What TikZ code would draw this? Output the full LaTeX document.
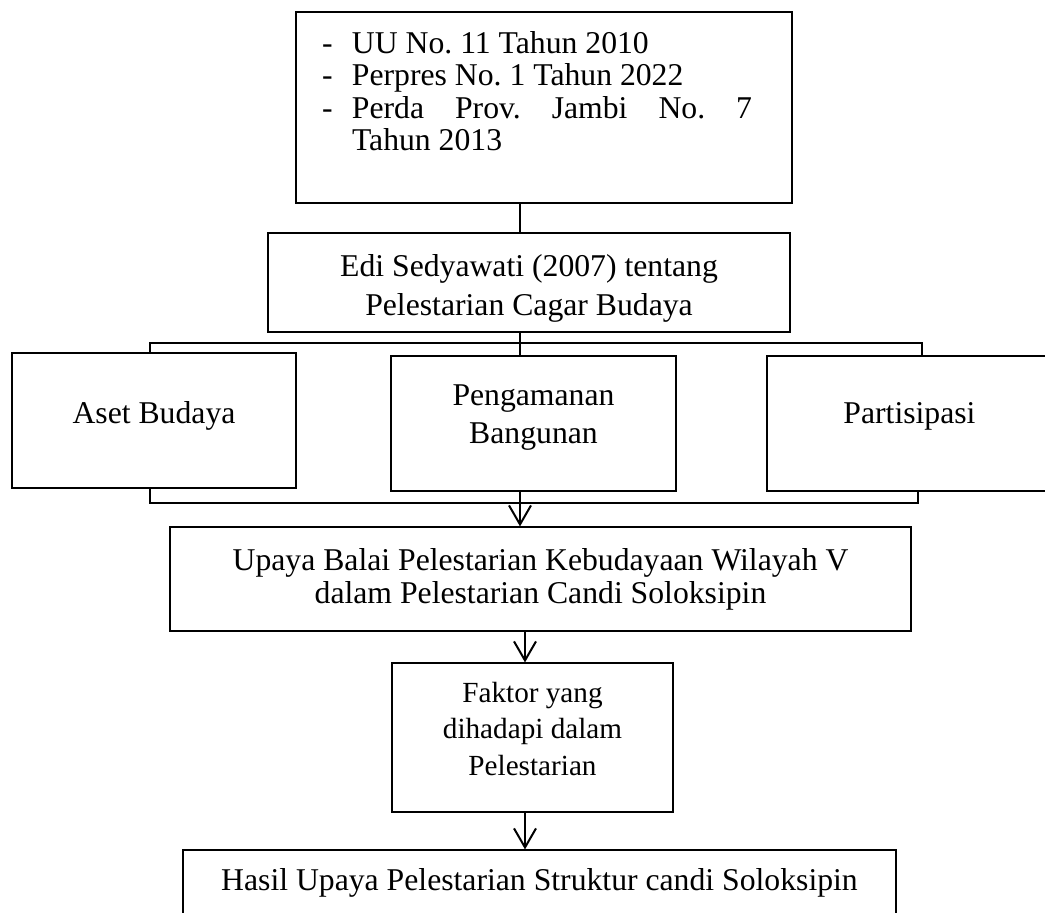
\documentclass[tikz,border=0pt]{standalone}
\usepackage{fontspec}
\setmainfont{Liberation Serif}
\usepackage{tikz}
\usetikzlibrary{positioning, arrows.meta}
\frenchspacing

\newcommand{\lawitem}[1]{\par\hangindent=30pt\hangafter=1\noindent\makebox[30pt][l]{-}#1}

\begin{document}
\begin{tikzpicture}[x=1pt, y=-1pt,
    box/.style={draw, line width=1.2pt, inner sep=0pt, font=\fontsize{31.7}{38}\selectfont},
    link/.style={line width=2.5pt},
    arr/.style={line width=2pt, -{Straight Barb[length=19pt,width=22pt]}}]
       \useasboundingbox (0,0) rectangle (1045,913);

       % Dasar hukum
       \node[box, minimum width=496pt, font=\fontsize{31.7}{32.3}\selectfont] (laws) at (544,107.5)
            {\parbox[c][191pt][t]{444pt}{\vspace*{19.5pt}\rightskip=14pt
             \lawitem{UU No. 11 Tahun 2010}\lawitem{Perpres No. 1 Tahun 2022}\lawitem{Perda Prov. Jambi No. 7\linebreak Tahun 2013}\par}};
       \node[box, align=center, minimum width=522pt, minimum height=99pt, text height=72.6pt, font=\fontsize{31.7}{39}\selectfont] (edi) at (529,282.5)
            {Edi Sedyawati (2007) tentang\\Pelestarian Cagar Budaya};

       % Tiga aspek pelestarian
       \node[box, minimum width=284pt, minimum height=135pt, text depth=17pt] (aset) at (154,420.5) {Aset Budaya};
       \node[box, align=center, minimum width=285pt, minimum height=135pt, text depth=19pt] (aman) at (533.5,423.5) {Pengamanan\\Bangunan};
       \node[box, minimum width=285pt, minimum height=135pt, text depth=21pt] (parti) at (909.5,423.5) {Partisipasi};

       % Upaya, faktor dan hasil
       \node[box, align=center, minimum width=741pt, minimum height=104pt, font=\fontsize{31.7}{33}\selectfont] (upaya) at (540.5,579)
            {Upaya Balai Pelestarian Kebudayaan Wilayah V\\dalam Pelestarian Candi Soloksipin};
       \node[box, align=center, minimum width=281pt, minimum height=149pt, text depth=18pt, font=\fontsize{29.2}{36.5}\selectfont] (faktor) at (532.5,737.5)
            {Faktor yang\\dihadapi dalam\\Pelestarian};
       \node[box, minimum width=713pt, minimum height=66pt] (hasil) at (539.5,883) {Hasil Upaya Pelestarian Struktur candi Soloksipin};

       % Titik bantu garis
       \coordinate (spine) at (520,0);
       \coordinate (lowspine) at (525,0);
       \coordinate (topL) at (150,343);
       \coordinate (topR) at (922,343);
       \coordinate (botL) at (150,503);
       \coordinate (botR) at (918,503);

       \draw[link] (laws.south -| spine) -- (edi.north -| spine);
       \draw[link] (edi.south -| spine) -- (aman.north -| spine);
       \draw[link] (aset.north -| topL) -- (topL) -- (topR) -- (parti.north -| topR);
       \draw[link] (aset.south -| botL) -- (botL) -- (botR) -- (parti.south -| botR);
       \draw[arr] (aman.south -| spine) -- (upaya.north -| spine);
       \draw[arr] (upaya.south -| lowspine) -- (faktor.north -| lowspine);
       \draw[arr] (faktor.south -| lowspine) -- (hasil.north -| lowspine);
    \end{tikzpicture}
\end{document}
